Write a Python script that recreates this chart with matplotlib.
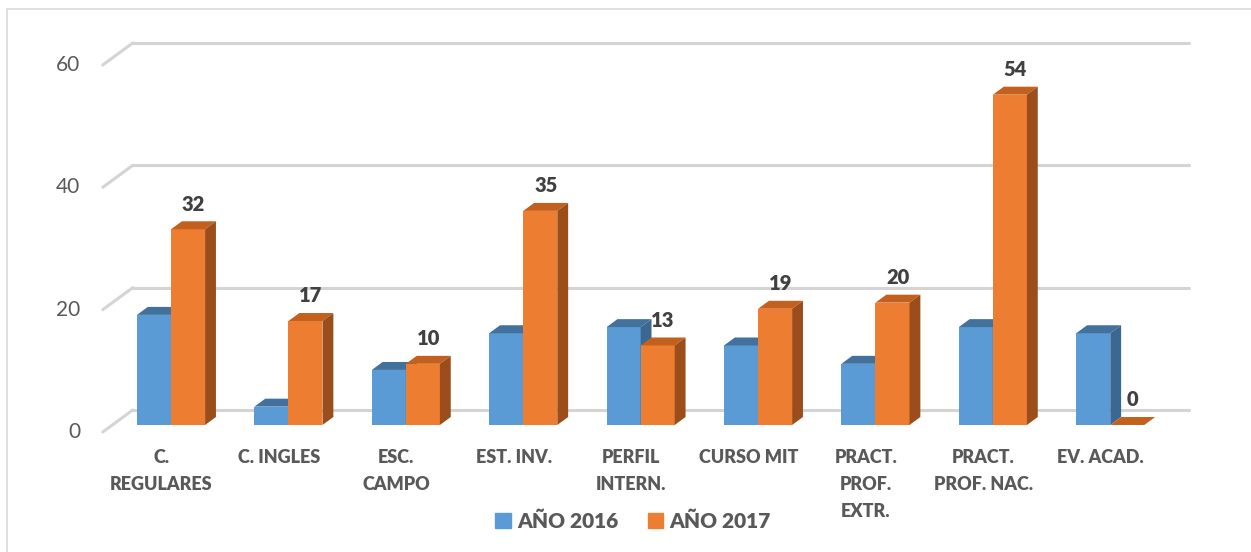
import matplotlib.pyplot as plt
from matplotlib.patches import Polygon, Rectangle, Patch

# data
categories = ['C.\nREGULARES', 'C. INGLES', 'ESC.\nCAMPO', 'EST. INV.',
              'PERFIL\nINTERN.', 'CURSO MIT', 'PRACT.\nPROF.\nEXTR.',
              'PRACT.\nPROF. NAC.', 'EV. ACAD.']
anio_2016 = [18, 3, 9, 15, 16, 13, 10, 16, 15]
anio_2017 = [32, 17, 10, 35, 13, 19, 20, 54, 0]
y_ticks = [0, 20, 40, 60]
series_names = ['AÑO 2016', 'AÑO 2017']

plt.rcParams['font.family'] = ['Lato', 'DejaVu Sans']

# 3D look: oblique depth offsets (data units)
DX, DY = 0.2555, 3.6
F1, F2 = 0.318, 0.68
W = 0.29

faces = {
    'blue': ('#5b9bd5', '#41719c', '#3a6890'),
    'orange': ('#ed7d31', '#c4601d', '#9c4d1c'),
}

fig = plt.figure(figsize=(12.51, 5.52), dpi=100)
ax = fig.add_axes([0, 0, 1, 1])
ax.set_xlim(-1.3756, 9.280)
ax.set_ylim(-19.62, 70.62)
ax.axis('off')

n = len(categories)
grid_c = '#d4d4d4'
for k in y_ticks:
    ax.plot([-0.5 + DX, n - 0.5 + DX], [k + DY, k + DY], color=grid_c, lw=2.2,
            solid_capstyle='round', zorder=1)
    ax.plot([-0.5, -0.5 + DX], [k, k + DY], color=grid_c, lw=2.2,
            solid_capstyle='round', zorder=1)
    ax.text(-0.69, k, str(k), ha='right', va='center', fontsize=15, color='#595959')


def draw_bar(x0, v, cols, z):
    front, top, side = cols
    b = F1 * DY
    ddx = (F2 - F1) * DX
    ddy = (F2 - F1) * DY
    ax.bar(x0, v, bottom=b, width=W, align='edge', color=front,
           edgecolor='none', zorder=z)
    ax.add_patch(Polygon([(x0, b + v), (x0 + W, b + v), (x0 + W + ddx, b + v + ddy),
                          (x0 + ddx, b + v + ddy)], closed=True, facecolor=top,
                         edgecolor='none', zorder=z))
    ax.add_patch(Polygon([(x0 + W, b), (x0 + W + ddx, b + ddy),
                          (x0 + W + ddx, b + v + ddy), (x0 + W, b + v)], closed=True,
                         facecolor=side, edgecolor='none', zorder=z))


for i in range(n):
    c = i + F1 * DX
    draw_bar(c - W, anio_2016[i], faces['blue'], 2 + 2 * i)
    draw_bar(c, anio_2017[i], faces['orange'], 3 + 2 * i)
    ddx = (F2 - F1) * DX
    ddy = (F2 - F1) * DY
    ax.text(c + W / 2 + ddx / 2, F1 * DY + anio_2017[i] + ddy + 2.8, str(anio_2017[i]),
            ha='center', va='center', fontsize=14.5, fontweight='heavy',
            color='#404040', zorder=30)
    ax.text(i, -2.8, categories[i], ha='center', va='top', fontsize=13,
            fontweight='heavy', color='#595959', linespacing=1.7)

handles = [Patch(color=faces['blue'][0]), Patch(color=faces['orange'][0])]
fig.legend(handles, series_names, loc='center', bbox_to_anchor=(0.506, 0.056),
           ncol=2, frameon=False, handlelength=0.75, handleheight=0.75,
           handletextpad=0.3, columnspacing=1.4,
           prop={'size': 15, 'weight': 'heavy'}, labelcolor='#595959')

fig.patches.append(Rectangle((7 / 1251, -0.1), 1.1, 1.1 - 9 / 552, fill=False,
                             edgecolor='#d9d9d9', lw=1.2, transform=fig.transFigure))

fig.savefig('out.png', dpi=100)
